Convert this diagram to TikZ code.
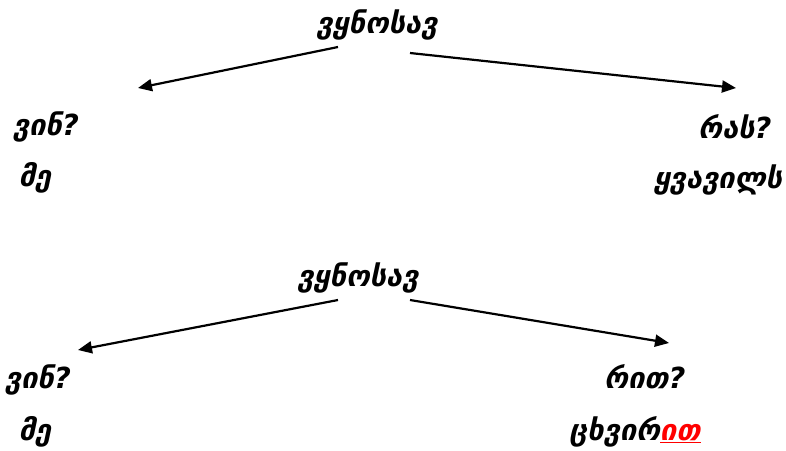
\documentclass[tikz,border=0pt]{standalone}
\usepackage{fontspec}
\setmainfont{DejaVu Sans}
\newfontfamily\geo{DejaVu Sans}[Script=Georgian,BoldItalicFont={DejaVu Sans Bold Oblique}]
\usetikzlibrary{arrows.meta}
\begin{document}
\begin{tikzpicture}[x=1pt,y=-1pt,
  lbl/.style={font=\geo\bfseries\itshape\fontsize{29}{33}\selectfont, inner sep=0pt, anchor=center},
  arr/.style={line width=2.2pt, -{Triangle[length=14pt,width=12pt]}}]
\useasboundingbox (0,0) rectangle (786,450);
% top group
\node[lbl] (v1) at (377,25) {ვყნოსავ};
\coordinate (a1s) at (338,47);
\coordinate (a1e) at (138,88);
\coordinate (a2s) at (410,53);
\coordinate (a2e) at (736,88);
\draw[arr] (a1s) -- (a1e);
\draw[arr] (a2s) -- (a2e);
\node[lbl] (q1) at (46,127) {ვინ?};
\node[lbl] (m1) at (35,178) {მე};
\node[lbl] (q2) at (735,127) {რას?};
\node[lbl] (f1) at (718,180) {ყვავილს};
% bottom group
\node[lbl] (v2) at (358,278) {ვყნოსავ};
\coordinate (a3s) at (338,300);
\coordinate (a3e) at (78,350);
\coordinate (a4s) at (410,300);
\coordinate (a4e) at (669,343);
\draw[arr] (a3s) -- (a3e);
\draw[arr] (a4s) -- (a4e);
\node[lbl] (q3) at (38,380) {ვინ?};
\node[lbl] (m2) at (35,432) {მე};
\node[lbl] (q4) at (645,377) {რით?};
\node[lbl] (n1) at (635,432) {ცხვირ{\color{red}\underline{ით}}};
\end{tikzpicture}
\end{document}
